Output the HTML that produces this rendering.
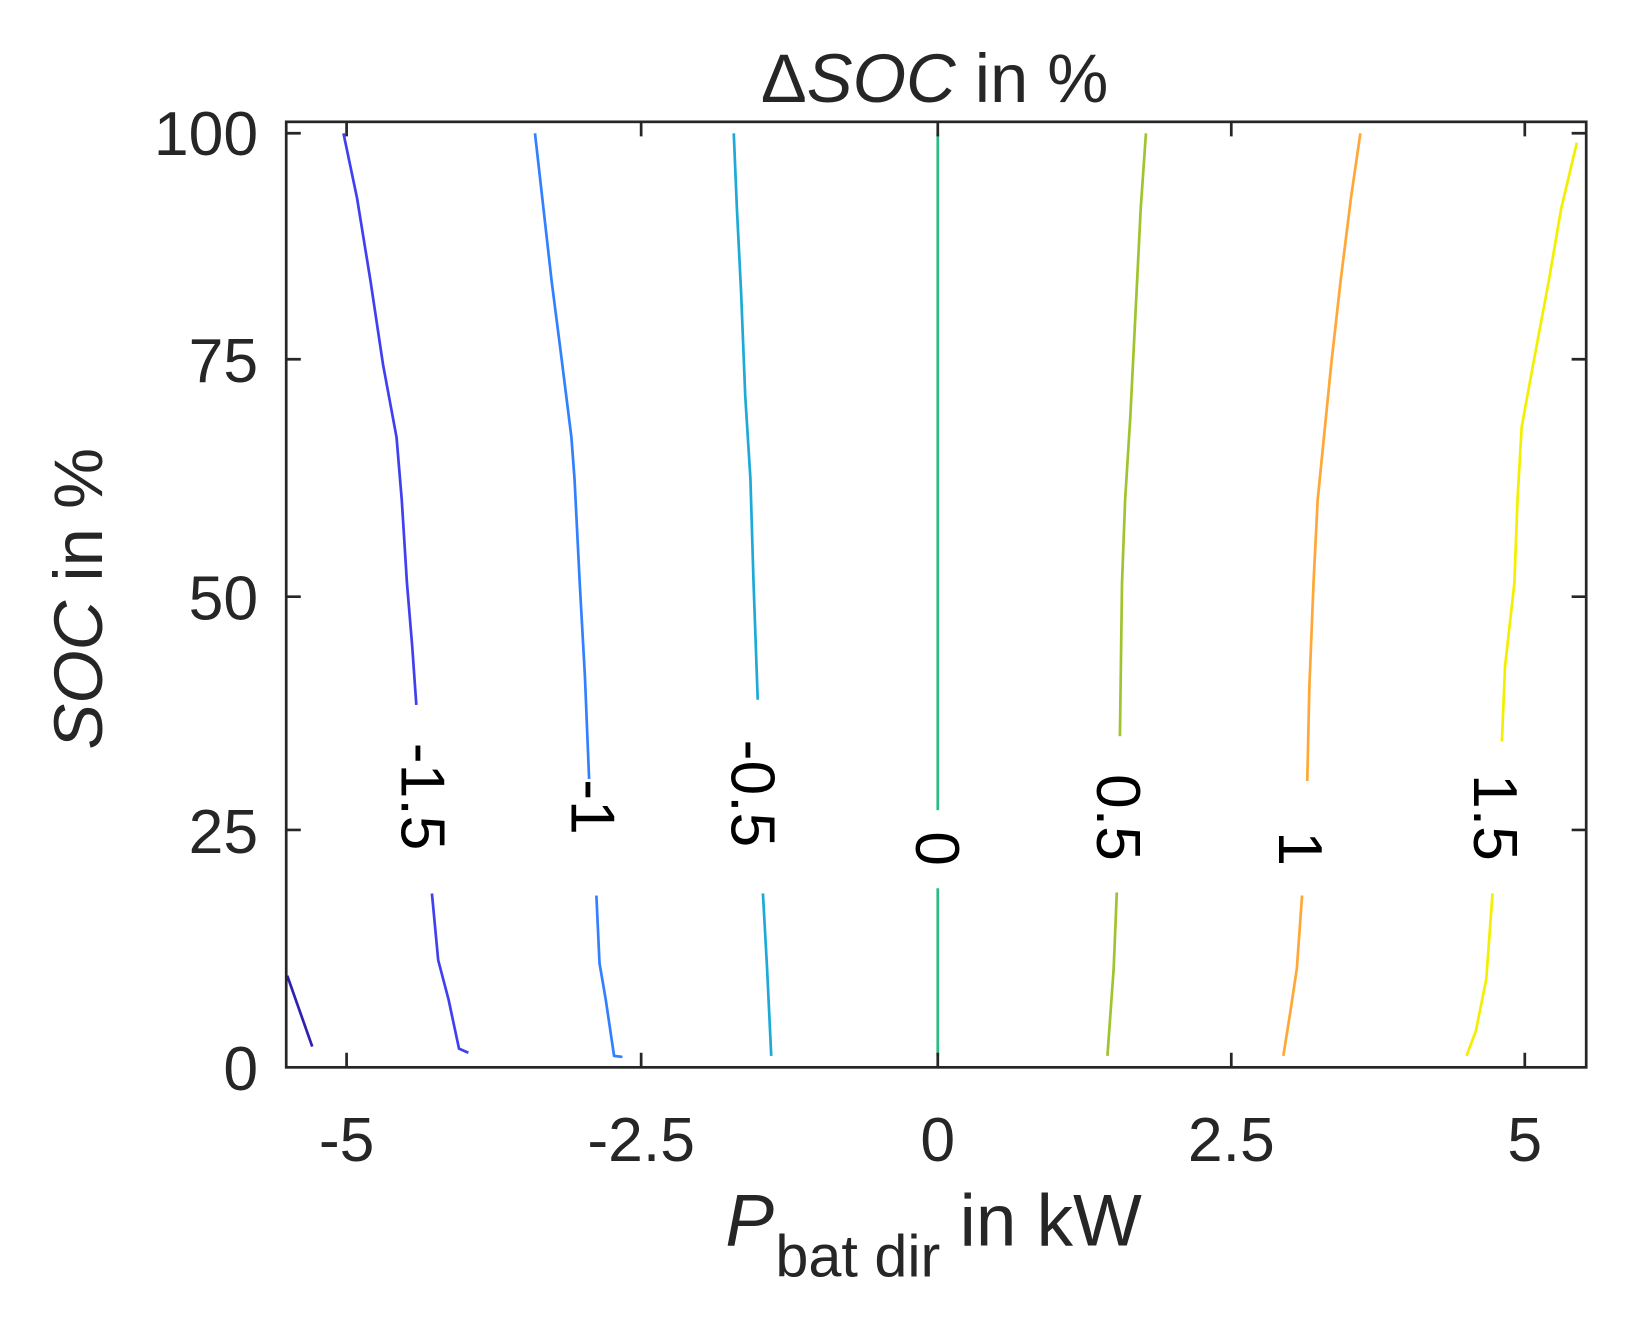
<!DOCTYPE html>
<html><head><style>
html,body{margin:0;padding:0;background:#fff;}
svg{display:block;}
text{font-family:"Liberation Sans",sans-serif;fill:#262626;}
</style></head><body>
<svg width="1632" height="1336" viewBox="0 0 1568 1283" preserveAspectRatio="none" xmlns="http://www.w3.org/2000/svg">
<g fill="none" stroke-width="2.6" stroke-linejoin="round">
<polyline stroke="#3020b0" points="276,937 300,1005"/>
<polyline stroke="#4040f0" points="330,128 343,190 356,270 368,350 381,420 386,480 391,560 396,620 400,677"/>
<polyline stroke="#4040f0" points="415,858 421,922 431,960 441,1007 450,1011"/>
<polyline stroke="#3380ff" points="514,128 521,190 530,270 539,340 549,420 552,460 557,560 562,650 566,748"/>
<polyline stroke="#3380ff" points="573,860 576,925 582,960 590,1014 598,1015"/>
<polyline stroke="#1eaad8" points="705,128 708,200 712,280 716,380 721,460 724,560 728,672"/>
<polyline stroke="#1eaad8" points="733,858 737,930 741,1014"/>
<polyline stroke="#2cbb80" points="901,128 901,778"/>
<polyline stroke="#2cbb80" points="901,853 901,1014"/>
<polyline stroke="#a0c430" points="1101,128 1096,200 1091,300 1086,400 1081,480 1078,560 1076,707"/>
<polyline stroke="#a0c430" points="1073,857 1070,930 1064,1014"/>
<polyline stroke="#ffa838" points="1307,128 1298,190 1288,270 1279,350 1272,420 1266,480 1262,560 1258,660 1256,750"/>
<polyline stroke="#ffa838" points="1251,860 1246,930 1240,970 1233,1014"/>
<polyline stroke="#f2f000" points="1515,137 1500,200 1488,270 1473,350 1462,410 1458,480 1455,560 1446,640 1443,712"/>
<polyline stroke="#f2f000" points="1434,858 1428,940 1418,990 1409,1014"/>
</g>
<g font-size="60">
<text transform="translate(407,765) rotate(90)" text-anchor="middle" dy="21" style="fill:#000">-1.5</text>
<text transform="translate(570,775) rotate(90)" text-anchor="middle" dy="21" style="fill:#000">-1</text>
<text transform="translate(724,762) rotate(90)" text-anchor="middle" dy="21" style="fill:#000">-0.5</text>
<text transform="translate(901,815) rotate(90)" text-anchor="middle" dy="21" style="fill:#000">0</text>
<text transform="translate(1075,785) rotate(90)" text-anchor="middle" dy="21" style="fill:#000">0.5</text>
<text transform="translate(1250,815) rotate(90)" text-anchor="middle" dy="21" style="fill:#000">1</text>
<text transform="translate(1437,785) rotate(90)" text-anchor="middle" dy="21" style="fill:#000">1.5</text>
</g>
<g stroke="#262626" stroke-width="2.6" fill="none">
<rect x="275" y="117" width="1249" height="908"/>
<path d="M333,1025v-14M616,1025v-14M901,1025v-14M1183,1025v-14M1465,1025v-14M333,117v14M616,117v14M901,117v14M1183,117v14M1465,117v14M275,128h14M275,345h14M275,573h14M275,797h14M1524,128h-14M1524,345h-14M1524,573h-14M1524,797h-14"/>
</g>
<g font-size="60" text-anchor="end">
<text x="248" y="149">100</text>
<text x="248" y="367">75</text>
<text x="248" y="595">50</text>
<text x="248" y="819">25</text>
<text x="248" y="1047">0</text>
</g>
<g font-size="60" text-anchor="middle">
<text x="333" y="1115">-5</text>
<text x="616" y="1115">-2.5</text>
<text x="901" y="1115">0</text>
<text x="1183" y="1115">2.5</text>
<text x="1465" y="1115">5</text>
</g>
<text x="898" y="98" font-size="66" text-anchor="middle">Δ<tspan font-style="italic">SOC</tspan> in %</text>
<text transform="translate(98,575) rotate(-90)" font-size="66" text-anchor="middle"><tspan font-style="italic">SOC</tspan> in %</text>
<text x="697" y="1196" font-size="70" font-style="italic">P</text>
<text x="745" y="1226" font-size="57">bat dir</text>
<text x="922" y="1196" font-size="70">in kW</text>
</svg>
</body></html>
